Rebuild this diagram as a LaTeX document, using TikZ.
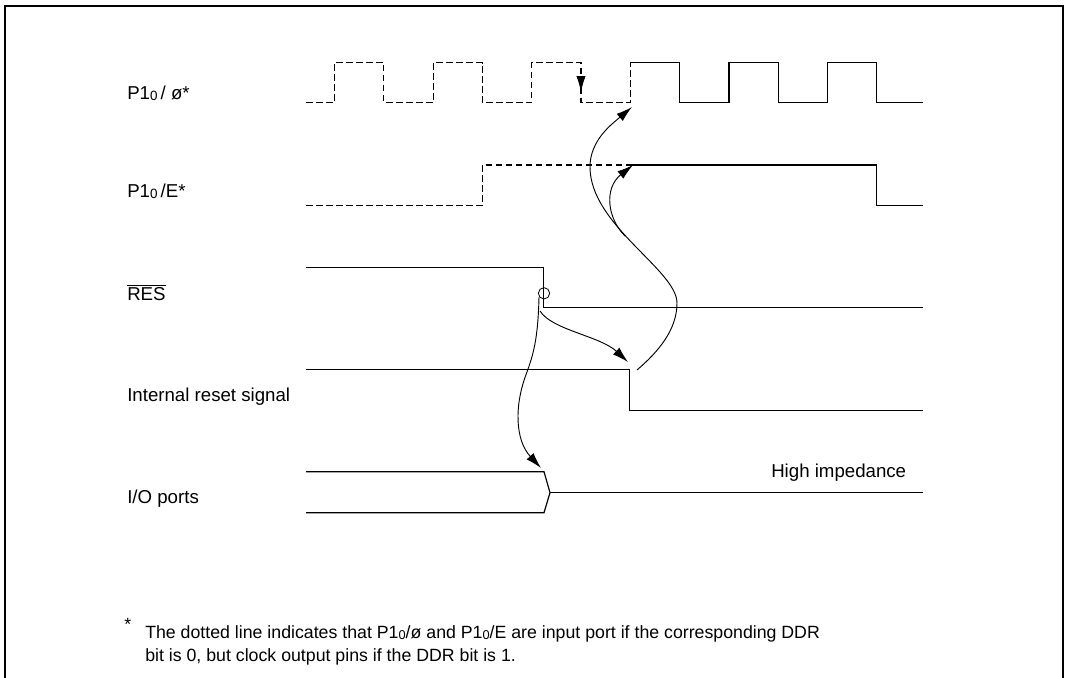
\documentclass[tikz,border=0pt]{standalone}
\usepackage{fontspec}
\setmainfont{Liberation Sans}
\usetikzlibrary{arrows.meta}
\newcommand\subz{\raisebox{-0.8pt}{\scalebox{0.72}{0}}}
\begin{document}
\begin{tikzpicture}[x=0.75pt,y=-0.75pt,
  wave/.style={line width=0.9pt, line join=miter},
  dwave/.style={wave, dash pattern=on 5pt off 2.5pt},
  link/.style={line width=0.7pt, -{Latex[length=12pt,width=7pt]}},
  lbl/.style={anchor=base west, inner sep=0pt, font=\fontsize{14}{16}\selectfont},
  note/.style={anchor=base west, inner sep=0pt, font=\fontsize{13.3}{16}\selectfont}]
\useasboundingbox (0,0) rectangle (1065,678);
% frame
\draw[line width=1.4pt] (5,678) -- (5,6) -- (1063,6) -- (1063,678);
% labels
\node[lbl] (lphi) at (127,99) {P1\subz\,/ ø*};
\node[lbl] (lE) at (127,197) {P1\subz\,/E*};
\node[lbl] (lres) at (127,300) {$\overline{\mbox{RES}}$};
\node[lbl] (lint) at (127,401) {Internal reset signal};
\node[lbl] (lio) at (127,503) {I/O ports};
\node[lbl] (lhz) at (771,477) {High impedance};
% P1/phi
\draw[dwave] (306,102.5) -- (334.5,102.5) -- (334.5,62.5) -- (383.8,62.5) -- (383.8,102.5) -- (433.1,102.5) -- (433.1,62.5) -- (482.4,62.5) -- (482.4,102.5) -- (531.7,102.5) -- (531.7,62.5) -- (581,62.5) -- (581,102.5) -- (630.3,102.5) -- (630.3,62.5);
\draw[wave] (630.3,62.5) -- (679.6,62.5) -- (679.6,102.5) -- (728.9,102.5) -- (728.9,62.5) -- (778.2,62.5) -- (778.2,102.5) -- (827.5,102.5) -- (827.5,62.5) -- (876.8,62.5) -- (876.8,102.5) -- (923,102.5);
\coordinate (fallA) at (581,76);
\coordinate (fallB) at (581,92);
\draw[link] (fallA) -- (fallB);
% P1/E
\draw[dwave] (306,205.3) -- (482.4,205.3) -- (482.4,165) -- (631,165);
\draw[wave] (631,165) -- (876.8,165) -- (876.8,205.3) -- (923,205.3);
% RES
\draw[wave] (306,267.3) -- (543.5,267.3) -- (543.5,307.7) -- (923,307.7);
\node[draw, circle, line width=0.6pt, minimum size=8.5pt, inner sep=0pt] (rc) at (544,293.3) {};
% internal reset
\draw[wave] (306,369.3) -- (629.5,369.3) -- (629.5,410.3) -- (923,410.3);
% I/O ports
\draw[wave] (306,471.7) -- (544,471.7) -- (550,492.7) -- (544,512.7) -- (306,512.7);
\draw[wave] (550,492.7) -- (923,492.7);
% cause/effect coordinates
\coordinate (resA) at (539,297);
\coordinate (resB) at (540,311);
\coordinate (ioT) at (541,468);
\coordinate (intT) at (628,362);
\coordinate (intS) at (637,370);
\coordinate (phiT) at (632,107);
\coordinate (br) at (625,236);
\coordinate (eT) at (633,165);
% arrows
\draw[link] (resA) .. controls (538,340) and (533,355) .. (527,372) .. controls (514,405) and (515,440) .. (ioT);
\draw[link] (resB) .. controls (552,330) and (600,336) .. (intT);
\draw[link] (intS) .. controls (658,352) and (677,330) .. (677,303) .. controls (677,270) and (590,225) .. (590,167) .. controls (590,140) and (612,124) .. (phiT);
\draw[link] (br) .. controls (607,218) and (604,188) .. (eT);
% footnote
\node[note] (ast) at (124,630) {*};
\node[note] (n1) at (145,638) {The dotted line indicates that P1\subz/ø and P1\subz/E are input port if the corresponding DDR};
\node[note] (n2) at (145,661) {bit is 0, but clock output pins if the DDR bit is 1.};
\end{tikzpicture}
\end{document}
